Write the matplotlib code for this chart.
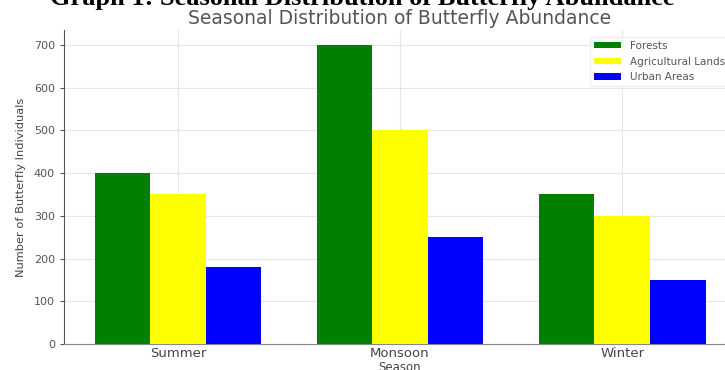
import numpy as np
import matplotlib.pyplot as plt

# Butterfly counts per season and habitat
seasons = ['Summer', 'Monsoon', 'Winter']
habitats = ['Forests', 'Agricultural Lands', 'Urban Areas']
forests = [400, 700, 350]
agricultural = [350, 500, 300]
urban = [180, 250, 150]
colors = ['green', 'yellow', 'blue']

fig = plt.figure(figsize=(7.25, 3.7), dpi=100)
ax = fig.add_axes([0.0883, 0.0703, 0.927, 0.849])

x = np.arange(len(seasons))
width = 0.25
for i, (vals, name) in enumerate(zip([forests, agricultural, urban], habitats)):
    ax.bar(x + (i - 1) * width, vals, width, color=colors[i], label=name, zorder=2)

ax.set_xticks(x)
ax.set_xticklabels(seasons, fontsize=9.5, color='#444444')
ax.tick_params(axis='y', labelsize=8, colors='#555555', length=3)
ax.tick_params(axis='x', length=0, pad=2)
ax.set_xlabel('Season', fontsize=8.5, color='#444444', labelpad=1)
ax.set_ylabel('Number of Butterfly Individuals', fontsize=8.2, color='#444444',
              labelpad=6)
ax.set_title('Seasonal Distribution of Butterfly Abundance', fontsize=13.5,
             color='#555555', pad=4)

ax.grid(True, color='#e6e6e6', linewidth=0.8, zorder=0)
ax.set_axisbelow(True)
for side in ['top', 'right']:
    ax.spines[side].set_visible(False)
ax.spines['left'].set_color('#555555')
ax.spines['bottom'].set_color('#888888')

leg = ax.legend(loc='upper right', bbox_to_anchor=(0.997, 0.995), fontsize=7.5,
                frameon=True, framealpha=1, edgecolor='#eeeeee', handlelength=2.6,
                handleheight=0.55, handletextpad=0.8, borderpad=0.4,
                labelspacing=0.55)
for t in leg.get_texts():
    t.set_color('#555555')

# Caption above the chart
fig.text(0.5, 1 - 5 / 370, 'Graph 1: Seasonal Distribution of Butterfly Abundance',
         ha='center', va='baseline', fontsize=19, fontweight='bold',
         family='Liberation Serif', color='black')

fig.savefig('out.png', dpi=100)
